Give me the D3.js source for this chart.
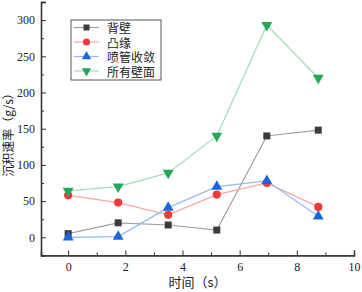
<!DOCTYPE html>
<html>
<head>
<meta charset="utf-8">
<script src="https://cdn.jsdelivr.net/npm/d3@7"></script>
<style>
body { margin: 0; background: #fff; }
</style>
</head>
<body>
<div id="chart"></div>
<script>
// time (s)
var times = [0, 1.75, 3.5, 5.2, 6.95, 8.75];
var seriesNames = ["背壁", "凸缘", "喷管收敛", "所有壁面"];
var backWall = [5, 20, 17, 10, 140, 148];
var flange = [58, 48, 31, 59, 75, 42];
var nozzle = [0, 1, 41, 70, 78, 29];
var allWalls = [64, 70, 89, 140, 293, 220];
var xTicks = [0, 2, 4, 6, 8, 10];
var yTicks = [0, 50, 100, 150, 200, 250, 300];

var width = 362, height = 292;
var cjk = "'Noto Sans CJK SC', sans-serif";
var serif = "'Liberation Serif', 'DejaVu Serif', serif";

var series = [
    { name: seriesNames[0], values: backWall, color: "#3c3c3c", line: "#a0a0a0", shape: "square" },
    { name: seriesNames[1], values: flange, color: "#f03a3a", line: "#f7a6a6", shape: "circle" },
    { name: seriesNames[2], values: nozzle, color: "#1a66dd", line: "#94b9ee", shape: "up" },
    { name: seriesNames[3], values: allWalls, color: "#23a858", line: "#a2dcb9", shape: "down" }
];

var svg = d3.select("#chart")
    .append("svg")
    .attr("width", width)
    .attr("height", height);

var x = d3.scaleLinear().domain([-0.95, 10]).range([41, 354]);
var y = d3.scaleLinear().domain([-25, 325]).range([255.4, 2]);

// axes, ticks pointing inward
svg.append("g")
    .attr("transform", "translate(0," + y(-25) + ")")
    .call(d3.axisBottom(x).tickValues(xTicks).tickSize(-5).tickPadding(7).tickFormat(d3.format("d")));
svg.append("g")
    .attr("transform", "translate(0," + y(-25) + ")")
    .call(d3.axisBottom(x).tickValues([1, 3, 5, 7, 9]).tickSize(-3).tickFormat(""));
svg.append("g")
    .attr("transform", "translate(" + x(-0.95) + ",0)")
    .call(d3.axisLeft(y).tickValues(yTicks).tickSize(-5).tickPadding(6));
svg.append("g")
    .attr("transform", "translate(" + x(-0.95) + ",0)")
    .call(d3.axisLeft(y).tickValues([25, 75, 125, 175, 225, 275]).tickSize(-3).tickFormat(""));

svg.selectAll(".domain").attr("stroke", "#333").attr("stroke-width", 1.3);
svg.selectAll(".tick line").attr("stroke", "#333");
svg.selectAll(".tick text")
    .style("font-family", serif)
    .style("font-size", "12px")
    .attr("fill", "#222");

function marker(g, shape, color, size) {
    if (shape == "square") {
        g.append("rect").attr("x", -size).attr("y", -size)
            .attr("width", size * 2).attr("height", size * 2).attr("fill", color);
    } else if (shape == "circle") {
        g.append("circle").attr("r", size + 0.6).attr("fill", color);
    } else if (shape == "up") {
        g.append("path").attr("d", d3.symbol().type(d3.symbolTriangle).size(size * size * 4.2)).attr("fill", color);
    } else {
        g.append("path").attr("d", d3.symbol().type(d3.symbolTriangle).size(size * size * 4.2))
            .attr("transform", "rotate(180)").attr("fill", color);
    }
}

var line = d3.line()
    .x((d, i) => x(times[i]))
    .y((d) => y(d));

series.forEach((s) => {
    svg.append("path")
        .datum(s.values)
        .attr("d", line)
        .attr("fill", "none")
        .attr("stroke", s.line)
        .attr("stroke-width", 1.2);
});

series.forEach((s) => {
    s.values.forEach((v, i) => {
        var g = svg.append("g").attr("transform", "translate(" + x(times[i]) + "," + y(v) + ")");
        marker(g, s.shape, s.color, 3.5);
    });
});

// legend
var legend = svg.append("g").attr("transform", "translate(71,20)");
legend.append("rect")
    .attr("width", 90)
    .attr("height", 60)
    .attr("fill", "#fff")
    .attr("stroke", "#555")
    .attr("stroke-width", 1);

series.forEach((s, i) => {
    var yy = 7.5 + i * 14.5;
    legend.append("line")
        .attr("x1", 3).attr("x2", 28)
        .attr("y1", yy).attr("y2", yy)
        .attr("stroke", s.line).attr("stroke-width", 1.2);
    var g = legend.append("g").attr("transform", "translate(15.5," + yy + ")");
    marker(g, s.shape, s.color, 3);
    legend.append("text")
        .attr("x", 36)
        .attr("y", yy)
        .text(s.name)
        .style("font-family", cjk)
        .style("font-size", "12px")
        .attr("fill", "#222")
        .attr("dominant-baseline", "central");
});

// axis titles
svg.append("text")
    .attr("x", (x(-0.95) + x(10)) / 2)
    .attr("y", 287)
    .attr("text-anchor", "middle")
    .text("时间（s）")
    .style("font-family", cjk)
    .style("font-size", "13px")
    .attr("fill", "#222");

svg.append("text")
    .attr("transform", "translate(7,132) rotate(-90)")
    .attr("text-anchor", "middle")
    .attr("dominant-baseline", "central")
    .text("沉积速率（g/s）")
    .style("font-family", cjk)
    .style("font-size", "12px")
    .attr("fill", "#222");
</script>
</body>
</html>
